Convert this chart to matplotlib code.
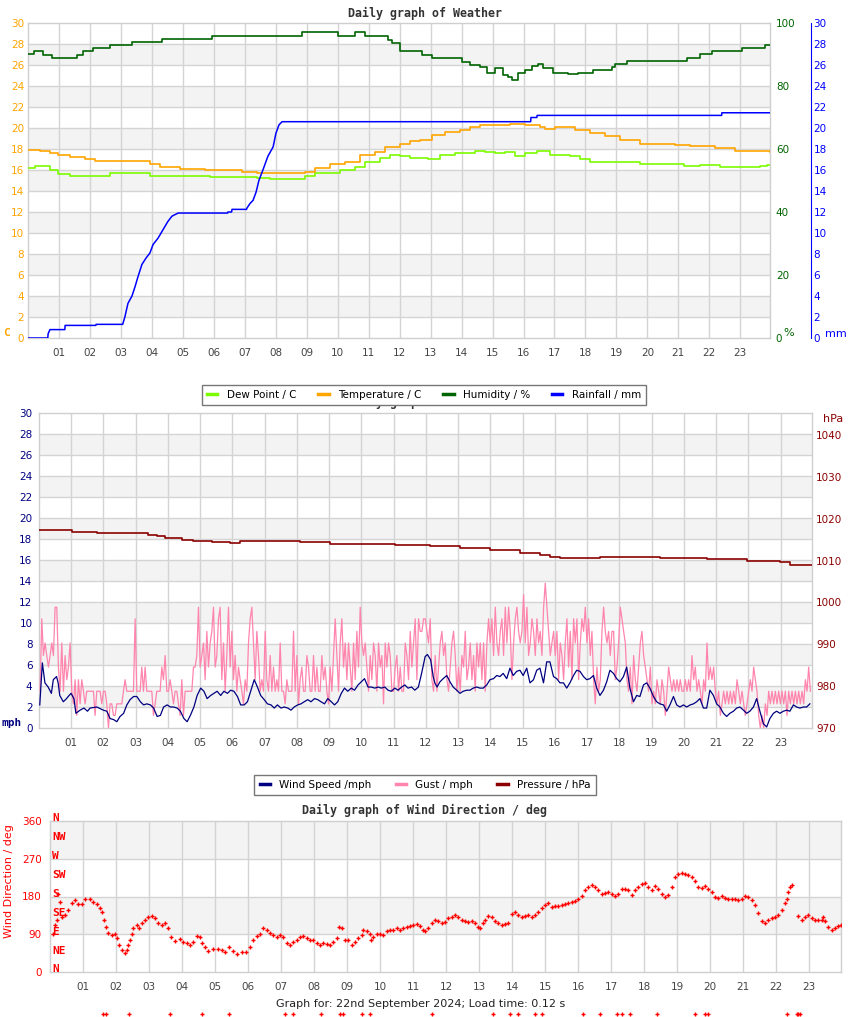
import numpy as np
import matplotlib
matplotlib.use("Agg")
import matplotlib.pyplot as plt
from matplotlib.lines import Line2D

W, H, DPI = 850, 1017, 100
XMAX = 23.97  # last reading of the day, in hours

# ---------------- top panel: hours since midnight ----------------
temp_t = [0.0, 0.38, 0.70, 0.96, 1.35, 1.83, 2.16, 3.93, 4.25, 4.90, 5.71, 6.90, 7.40,
          8.94, 9.26, 9.75, 10.23, 10.72, 11.20, 11.52, 12.01, 12.33, 12.66, 13.04, 13.46,
          13.95, 14.27, 14.59, 15.56, 16.05, 16.53, 16.69, 17.02, 17.66, 18.15, 18.63,
          19.11, 19.76, 20.89, 21.38, 22.19, 22.83, 23.97]
temp_c = [17.9, 17.8, 17.6, 17.4, 17.2, 17.0, 16.9, 16.6, 16.3, 16.1, 16.0, 15.8, 15.7,
          15.8, 16.2, 16.6, 16.8, 17.4, 17.7, 18.2, 18.5, 18.8, 18.9, 19.3, 19.6,
          19.8, 20.1, 20.3, 20.4, 20.3, 20.1, 19.9, 20.1, 19.8, 19.5, 19.2,
          18.9, 18.5, 18.4, 18.3, 18.1, 17.8, 17.7]

dew_t = [0.0, 0.22, 0.70, 0.96, 1.35, 2.64, 3.93, 5.87, 7.40, 7.81, 8.94, 9.26, 10.07,
         10.56, 10.88, 11.36, 11.69, 12.01, 12.33, 12.91, 13.30, 13.79, 14.43, 14.76,
         15.08, 15.40, 15.72, 16.05, 16.44, 16.86, 17.50, 17.82, 18.15, 19.76, 21.20,
         21.70, 22.35, 23.64, 23.87, 23.97]
dew_c = [16.2, 16.4, 16.0, 15.6, 15.4, 15.7, 15.4, 15.3, 15.2, 15.1, 15.4, 15.7, 16.0,
         16.3, 16.8, 17.1, 17.4, 17.3, 17.1, 17.0, 17.4, 17.6, 17.8, 17.7,
         17.6, 17.7, 17.3, 17.6, 17.8, 17.4, 17.3, 17.0, 16.8, 16.6, 16.4,
         16.5, 16.3, 16.4, 16.5, 16.5]

hum_t = [0.0, 0.18, 0.48, 0.77, 1.57, 1.77, 2.09, 2.64, 3.35, 4.32, 5.94, 8.84, 10.01,
         10.56, 10.88, 11.37, 11.63, 11.75, 12.01, 12.5, 12.72, 13.04, 14.01, 14.27, 14.6,
         14.82, 15.08, 15.34, 15.5, 15.63, 15.82, 16.05, 16.27, 16.47, 16.63, 16.95,
         17.44, 17.76, 18.25, 18.86, 18.96, 19.34, 21.28, 21.7, 22.09, 23.06, 23.8, 23.97]
hum_pct = [90.2, 91.0, 89.8, 88.8, 89.8, 91.0, 92.0, 92.9, 93.9, 94.8, 95.8, 97.0, 95.8,
           97.0, 95.8, 95.8, 94.5, 93.5, 91.0, 91.0, 89.8, 88.8, 87.7, 86.7, 86.0,
           84.2, 85.6, 83.5, 83.0, 81.9, 84.2, 85.1, 86.3, 87.0, 85.6, 84.2,
           83.7, 84.2, 85.0, 86.0, 87.0, 87.8, 88.8, 90.0, 91.0, 92.0, 92.9, 92.9]

# rain total: flat spells are given by their first and last reading
rain_t = [0.0, 0.63, 0.64, 0.70, 1.18, 1.19, 2.18, 2.19, 3.05, 3.06, 3.12, 3.22, 3.35,
          3.45, 3.54, 3.67, 3.80, 3.93, 4.03, 4.19, 4.35, 4.51, 4.64, 4.84, 6.44, 6.45,
          6.57, 6.58, 7.05, 7.06, 7.16, 7.26, 7.36, 7.45, 7.58, 7.74, 7.91, 8.00, 8.10,
          8.20, 16.23, 16.24, 16.43, 16.44, 22.40, 22.41, 23.97]
rain_mm = [0.0, 0.0, 0.4, 0.8, 0.8, 1.2, 1.2, 1.3, 1.3, 1.4, 2.0, 3.3, 4.0,
           4.9, 5.8, 7.0, 7.6, 8.1, 8.9, 9.5, 10.3, 11.1, 11.6, 11.9, 11.9, 12.0,
           12.0, 12.25, 12.25, 12.35, 12.8, 13.1, 13.9, 15.0, 16.0, 17.3, 18.2, 19.5, 20.3,
           20.6, 20.6, 21.0, 21.0, 21.2, 21.2, 21.45, 21.45]

# ---------------- middle panel ----------------
pres_t = [0.0, 1.03, 1.28, 1.8, 3.39, 3.67, 3.91, 4.44, 4.78, 5.37, 5.93, 6.24, 7.79,
          8.1, 9.03, 11.04, 12.13, 13.06, 14.0, 14.92, 15.54, 15.85, 16.15, 16.68, 17.4,
          19.26, 20.71, 21.95, 22.98, 23.29, 23.97]
pres_hpa = [1017.2, 1016.9, 1016.75, 1016.5, 1016.1, 1015.8, 1015.3, 1015.0, 1014.7,
            1014.4, 1014.1, 1014.6, 1014.6, 1014.4, 1014.0, 1013.7, 1013.4, 1013.0,
            1012.5, 1011.8, 1011.3, 1010.9, 1010.7, 1010.5, 1010.8, 1010.5, 1010.3,
            1010.0, 1009.6, 1009.0, 1009.0]

wind_t = [0.03, 0.11, 0.19, 0.29, 0.39, 0.45, 0.55, 0.60, 0.65, 0.76, 0.86, 0.94, 1.00,
          1.09, 1.15, 1.28, 1.40, 1.51, 1.59, 1.80, 2.00, 2.11, 2.21, 2.32, 2.42, 2.52,
          2.63, 2.73, 2.83, 2.94, 3.04, 3.15, 3.25, 3.35, 3.46, 3.56, 3.67, 3.77, 3.87,
          3.98, 4.08, 4.18, 4.29, 4.39, 4.50, 4.60, 4.70, 4.81, 4.91, 5.02, 5.12, 5.22,
          5.33, 5.43, 5.53, 5.64, 5.74, 5.85, 5.95, 6.05, 6.16, 6.26, 6.37, 6.47, 6.57,
          6.68, 6.78, 6.88, 6.99, 7.09, 7.20, 7.30, 7.40, 7.51, 7.61, 7.72, 7.82, 7.92,
          8.03, 8.13, 8.23, 8.34, 8.44, 8.55, 8.65, 8.75, 8.86, 8.96, 9.07, 9.17, 9.27,
          9.38, 9.48, 9.58, 9.69, 9.79, 9.90, 10.00, 10.10, 10.21, 10.31, 10.42, 10.52,
          10.62, 10.73, 10.83, 10.93, 11.04, 11.14, 11.25, 11.35, 11.45, 11.56, 11.66,
          11.77, 11.87,
          11.98, 12.05, 12.15, 12.23, 12.28, 12.35, 12.44, 12.54, 12.65, 12.75, 12.85,
          12.96, 13.06, 13.16, 13.27, 13.37, 13.47, 13.58, 13.68, 13.78, 13.89, 13.99,
          14.10, 14.20, 14.30, 14.40, 14.51, 14.61, 14.71, 14.82, 14.92, 15.02, 15.13,
          15.23, 15.34, 15.44, 15.54, 15.65, 15.75, 15.85, 15.96, 16.06, 16.16, 16.27,
          16.37, 16.47, 16.58, 16.68, 16.78, 16.89, 16.99, 17.09, 17.20, 17.30, 17.40,
          17.51, 17.61, 17.71, 17.82, 17.92, 18.02, 18.13, 18.23, 18.33, 18.44, 18.54,
          18.64, 18.75, 18.85, 18.95, 19.06, 19.16, 19.26, 19.37, 19.47, 19.57, 19.68,
          19.78, 19.88, 19.99, 20.09, 20.20, 20.30, 20.40, 20.50, 20.61, 20.71, 20.81,
          20.92, 21.02, 21.12, 21.23, 21.33, 21.43, 21.54, 21.64, 21.74, 21.85, 21.95,
          22.05, 22.16, 22.26, 22.36, 22.47, 22.57, 22.67, 22.78, 22.88, 22.98, 23.09,
          23.19, 23.29, 23.40, 23.50, 23.60, 23.71, 23.81, 23.91]
wind_mph = [2.2, 6.2, 4.3, 3.9, 3.3, 4.6, 4.9, 4.3, 3.1, 2.5, 2.8, 3.1, 3.3,
            2.8, 1.4, 1.7, 1.9, 1.6, 1.9, 2.0, 1.7, 1.6, 0.9, 0.8, 0.6, 1.1,
            1.4, 2.2, 2.7, 3.0, 3.0, 2.5, 2.2, 2.3, 2.2, 1.9, 1.1, 1.2, 2.0,
            2.2, 2.0, 2.0, 1.9, 1.6, 0.9, 0.6, 1.2, 2.0, 3.1, 3.8, 3.5, 2.8,
            3.1, 3.3, 3.5, 3.1, 3.5, 3.3, 3.6, 3.5, 3.0, 2.2, 2.2, 2.5, 3.5,
            4.6, 3.9, 3.1, 2.7, 2.3, 2.2, 1.9, 2.2, 1.9, 2.0, 1.9, 1.7, 2.0,
            2.2, 2.3, 2.5, 2.7, 2.5, 2.8, 2.7, 2.5, 2.3, 2.8, 2.5, 2.2, 2.5,
            3.3, 3.8, 3.5, 3.8, 3.6, 4.1, 4.4, 4.7, 3.9, 3.9, 3.8, 3.9,
            3.8, 3.9, 3.6, 3.5, 3.8, 3.6, 3.9, 4.1, 3.8, 3.9, 3.6,
            3.9, 5.2,
            6.8, 7.0, 6.5, 4.9, 4.3, 3.9, 4.4, 4.7, 5.0, 4.4, 3.9,
            3.6, 3.3, 3.5, 3.6, 3.6, 3.8, 3.9, 3.8, 3.8, 4.1, 4.6,
            4.7, 5.0, 4.9, 5.2, 4.7, 5.7, 5.0, 5.4, 5.5, 5.0, 5.7,
            4.3, 4.6, 5.5, 5.7, 4.3, 6.3, 6.3, 4.9, 4.7, 4.3, 4.3,
            3.8, 4.3, 5.0, 5.5, 5.4, 4.9, 4.6, 4.7, 5.0, 3.8, 3.1,
            3.6, 4.4, 5.5, 5.2, 4.7, 4.4, 4.9, 5.8, 3.8, 2.5, 3.1,
            3.0, 4.1, 4.3, 3.8, 3.0, 2.5, 2.3, 2.2, 1.6, 2.2, 3.0,
            2.2, 2.0, 2.2, 2.0, 2.2, 2.3, 2.5, 2.8, 1.9, 1.9, 3.6,
            3.1, 2.3, 2.0, 1.4, 1.1, 1.4, 1.6, 1.9, 2.0, 1.7, 1.4,
            1.6, 2.0, 2.8, 1.6, 0.4, 0.1, 0.9, 1.4, 1.6, 1.4, 1.6,
            1.7, 1.6, 2.2, 2.0, 1.9, 2.0, 2.0, 2.3]

# gusts are logged about every 3 minutes, starting just after midnight
GUST_T0, GUST_STEP = 0.04, 0.0517
gust_mph = [
    3.5, 10.4, 6.9, 8.1, 6.9, 5.8, 6.9, 8.1, 6.9, 11.5,
    11.5, 5.8, 3.5, 8.1, 3.5, 6.9, 4.6, 5.8, 8.1, 3.5,
    2.3, 4.6, 1.2, 4.6, 2.3, 4.6, 3.5, 2.3, 3.5, 3.5,
    3.5, 3.5, 3.5, 1.2, 3.5, 3.5, 3.5, 2.3, 3.5, 3.5,
    2.3, 0.0, 2.3, 2.3, 1.2, 1.2, 2.3, 2.3, 2.3, 2.3,
    3.5, 4.6, 3.5, 3.5, 3.5, 3.5, 3.5, 10.4, 3.5, 3.5,
    3.5, 5.8, 3.5, 5.8, 3.5, 3.5, 3.5, 3.5, 1.2, 2.3,
    3.5, 3.5, 3.5, 5.8, 4.6, 6.9, 3.5, 3.5, 4.6, 3.5,
    2.3, 3.5, 3.5, 2.3, 1.2, 4.6, 1.2, 3.5, 3.5, 3.5,
    3.5, 3.5, 5.8, 5.8, 6.9, 11.5, 5.8, 6.9, 8.1, 4.6,
    9.2, 5.8, 8.1, 9.2, 11.5, 5.8, 6.9, 10.4, 11.5, 4.6,
    8.1, 3.5, 6.9, 11.5, 5.8, 9.2, 4.6, 6.9, 3.5, 5.8,
    4.6, 3.5, 2.3, 4.6, 3.5, 8.1, 10.4, 11.5, 8.1, 4.6,
    9.2, 6.9, 3.5, 4.6, 3.5, 9.2, 4.6, 3.5, 6.9, 3.5,
    5.8, 3.5, 4.6, 3.5, 8.1, 3.5, 3.5, 2.3, 4.6, 3.5,
    3.5, 3.5, 9.2, 3.5, 6.9, 2.3, 4.6, 5.8, 3.5, 3.5,
    6.9, 5.8, 3.5, 3.5, 6.9, 3.5, 5.8, 3.5, 3.5, 6.9,
    4.6, 5.8, 3.5, 2.3, 5.8, 3.5, 6.9, 10.4, 6.9, 3.5,
    8.1, 10.4, 5.8, 8.1, 4.6, 8.1, 5.8, 3.5, 8.1, 4.6,
    9.2, 5.8, 11.5, 8.1, 6.9, 8.1, 5.8, 3.5, 6.9, 4.6,
    8.1, 6.9, 3.5, 8.1, 5.8, 6.9, 2.3, 8.1, 5.8, 8.1,
    6.9, 3.5, 3.5, 5.8, 6.9, 3.5, 5.8, 3.5, 3.5, 8.1,
    6.9, 4.6, 9.2, 5.8, 8.1, 10.4, 4.6, 10.4, 9.2, 9.2,
    10.4,
    10.4, 9.2, 8.1, 10.4, 4.6, 3.5, 6.9, 3.5, 5.8, 8.1,
    9.2, 6.9, 8.1, 4.6, 3.5, 5.8, 8.1, 9.2, 6.9, 3.5,
    5.8, 3.5, 6.9, 5.8, 9.2, 4.6, 5.8, 8.1, 4.6, 6.9,
    3.5, 8.1, 5.8, 8.1, 4.6, 8.1, 3.5, 8.1, 10.4, 8.1,
    10.4, 6.9, 11.5, 8.1, 6.9, 9.2, 10.4, 6.9, 11.5, 8.1,
    11.5, 9.2, 4.6, 8.1, 10.4, 11.5, 9.2, 8.1, 9.2, 12.7,
    8.1, 11.5, 6.9, 8.1, 10.4, 9.2, 6.9, 10.4, 8.1, 9.2,
    6.9, 11.5, 13.8, 11.5, 9.2, 6.9, 8.1, 9.2, 6.9, 9.2,
    4.6, 8.1, 6.9, 4.6, 8.1, 10.4, 5.8, 9.2, 4.6, 10.4,
    8.1, 10.4, 4.6, 8.1, 10.4, 9.2, 11.5, 8.1, 10.4, 6.9,
    9.2, 4.6, 2.3, 5.8, 3.5, 4.6, 9.2, 11.5, 9.2, 8.1,
    9.2, 6.9, 9.2, 9.2, 4.6, 5.8, 8.1, 11.5, 10.4, 9.2,
    8.1, 4.6, 3.5, 5.8, 2.3, 6.9, 4.6, 3.5, 5.8, 8.1,
    9.2, 6.9, 5.8, 4.6, 3.5, 5.8, 2.3, 3.5, 2.3, 4.6,
    3.5, 2.3, 4.6, 3.5, 1.2, 3.5, 5.8, 4.6, 3.5, 4.6,
    3.5, 4.6, 3.5, 4.6, 3.5, 3.5, 4.6, 3.5, 4.6, 3.5,
    6.9, 4.6, 5.8, 3.5, 4.6, 3.5, 2.3, 4.6, 3.5, 8.1,
    4.6, 5.8, 4.6, 5.8, 3.5, 2.3, 3.5, 1.2, 2.3, 3.5,
    2.3, 3.5, 2.3, 3.5, 2.3, 3.5, 2.3, 4.6, 3.5, 2.3,
    3.5, 2.3, 1.2, 2.3, 3.5, 4.6, 3.5, 5.8, 4.6, 3.5,
    1.2, 0.0, 1.2, 0.0, 2.3, 1.2, 3.5, 2.3, 3.5, 2.3,
    3.5, 2.3, 3.5, 2.3, 3.5, 2.3, 3.5, 1.2, 3.5, 2.3,
    3.5, 2.3, 3.5, 2.3, 3.5, 2.3, 3.5, 2.3, 4.6, 3.5,
    5.8, 3.5]

# ---------------- bottom panel: wind direction ----------------
dir_t = [0.10, 0.15, 0.20, 0.25, 0.30, 0.35, 0.45, 0.56, 0.66, 0.76, 0.86, 0.96, 1.06,
         1.21, 1.31, 1.41, 1.52, 1.57, 1.64, 1.70, 1.77, 1.87, 1.97, 2.04, 2.10, 2.17,
         2.27, 2.32, 2.37, 2.42, 2.47, 2.53, 2.63, 2.71, 2.78, 2.88, 2.98, 3.08, 3.18,
         3.28, 3.38, 3.48, 3.59, 3.66, 3.79, 3.94, 4.02, 4.14, 4.24, 4.34, 4.44, 4.55,
         4.62, 4.70, 4.80, 4.95, 5.10, 5.20, 5.30, 5.43, 5.56, 5.68, 5.81, 5.94, 6.06,
         6.16, 6.26, 6.36, 6.46, 6.57, 6.67, 6.77, 6.87, 6.97, 7.07, 7.17, 7.27, 7.37,
         7.47, 7.58, 7.68, 7.78, 7.88, 7.98, 8.08, 8.18, 8.28, 8.38, 8.48, 8.59, 8.69,
         8.77, 8.84, 8.94, 9.04, 9.14, 9.24, 9.34, 9.44, 9.49, 9.60, 9.70, 9.72, 9.80,
         9.90, 10.00, 10.10, 10.20, 10.30, 10.40, 10.51, 10.61, 10.71, 10.81, 10.91,
         11.01, 11.11, 11.21, 11.31,
         11.36, 11.46, 11.57, 11.67, 11.77, 11.87, 11.97, 12.07, 12.17, 12.27, 12.37,
         12.47, 12.58, 12.68, 12.78, 12.88, 12.98, 13.03, 13.13, 13.18, 13.28, 13.38,
         13.48, 13.59, 13.69, 13.79, 13.89, 13.99, 14.09, 14.19, 14.29, 14.39, 14.49,
         14.60, 14.70, 14.80, 14.90, 15.00, 15.10, 15.20, 15.30, 15.40, 15.51, 15.61,
         15.71, 15.81, 15.91, 16.01, 16.11, 16.21, 16.31, 16.41, 16.52, 16.62, 16.72,
         16.82, 16.92, 17.02, 17.12, 17.22, 17.32, 17.42, 17.53, 17.63, 17.73, 17.83,
         17.93, 18.03, 18.13, 18.23, 18.33, 18.43, 18.54, 18.64, 18.74, 18.84, 18.94,
         19.04, 19.14, 19.24, 19.34, 19.44, 19.55, 19.65, 19.75, 19.85, 19.95, 20.05,
         20.15, 20.25, 20.35, 20.45, 20.56, 20.66, 20.76, 20.86, 20.96, 21.06, 21.16,
         21.26, 21.36, 21.46, 21.57, 21.67, 21.77, 21.87, 21.97, 22.07, 22.17, 22.27,
         22.32, 22.37, 22.42, 22.47, 22.68, 22.78, 22.88, 22.98, 23.08, 23.18, 23.28,
         23.38, 23.43, 23.48, 23.59, 23.69, 23.79, 23.89, 23.96]
dir_deg = [91, 111, 124, 187, 168, 132, 136, 148, 164, 172, 162, 162, 173,
           173, 168, 161, 152, 144, 124, 108, 94, 88, 91, 80, 64, 52,
           46, 52, 64, 76, 91, 104, 111, 104, 116, 124, 132, 134, 128,
           116, 113, 116, 104, 84, 73, 78, 72, 68, 65, 72, 85, 84,
           70, 60, 51, 54, 55, 52, 48, 60, 51, 43, 48, 48, 60,
           76, 85, 91, 104, 100, 94, 88, 84, 88, 84, 70, 64, 72,
           76, 83, 87, 80, 76, 76, 68, 65, 68, 66, 64, 72, 80,
           108, 106, 76, 76, 64, 72, 80, 88, 100, 98, 91, 76, 84,
           91, 91, 89, 98, 101, 100, 104, 100, 104, 108, 110,
           111, 114, 110, 100,
           98, 104, 116, 125, 121, 116, 120, 128, 132, 136, 132,
           125, 121, 120, 122, 116, 108, 104, 116, 125, 133, 132,
           121, 116, 113, 114, 117, 138, 144, 136, 130, 133, 136,
           132, 136, 144, 152, 160, 164, 156, 158, 158, 160, 162,
           165, 166, 169, 173, 181, 195, 202, 207, 202, 195, 185,
           188, 191, 187, 181, 185, 199, 197, 195, 183, 195, 203,
           209, 212, 203, 195, 205, 199, 187, 179, 183, 203, 226,
           234, 236, 233, 232, 226, 218, 203, 201, 206, 199, 191,
           179, 177, 181, 177, 173, 175, 173, 171, 175, 182, 179,
           171, 160, 140, 122, 117, 125, 129, 130, 136, 148, 164,
           175, 191, 203, 208, 133, 125, 132, 135, 129, 124, 124,
           125, 130, 121, 108, 100, 106, 110, 111]

# calm spells get logged with a placeholder bearing below the scale
CALM_DEG = -100
calm_t = [1.61, 1.70, 2.39, 3.64, 4.61, 5.42, 7.12, 7.36, 8.21, 8.79, 8.88, 9.45, 9.70,
          11.58, 13.42, 13.94, 14.18, 14.70, 14.91, 16.15, 16.67, 17.18, 17.33, 17.58,
          18.39, 19.55, 19.85, 19.94, 22.33, 22.64, 22.67, 22.73]

# ---------------- colours ----------------
C_TEMP, C_DEW, C_HUM, C_RAIN = '#ffa500', '#7cfc00', '#006400', '#0000ff'
C_WIND, C_GUST, C_PRES, C_DIR = '#000080', '#ff85ad', '#8b0000', '#ff0000'
GRID, BAND, EDGE = '#d4d4d4', '#f3f3f3', '#cfcfcf'
MONO = 'DejaVu Sans Mono'

fig = plt.figure(figsize=(W / DPI, H / DPI), dpi=DPI)


def add_panel(left, top, right, bottom):
    # panel rectangle in pixels, measured from the top-left corner of the page
    return fig.add_axes([left / W, 1 - bottom / H, (right - left) / W, (bottom - top) / H])


def put(x, y, s, **kw):
    fig.text(x / W, 1 - y / H, s, **kw)


def style_panel(ax, yticks, ycolor, ypad):
    ax.set_xlim(0, XMAX)
    ax.set_ylim(yticks[0], yticks[-1])
    for i, (lo, hi) in enumerate(zip(yticks[:-1], yticks[1:])):
        if i % 2 == 1:
            ax.axhspan(lo, hi, color=BAND, lw=0, zorder=0)
    for y in yticks[1:-1]:
        ax.axhline(y, color=GRID, lw=1, zorder=0.5)
    for h in range(1, 24):
        ax.axvline(h, color=GRID, lw=1, zorder=0.5)
    ax.set_xticks(range(1, 24))
    ax.set_xticklabels([f'{h:02d}' for h in range(1, 24)])
    ax.set_yticks(yticks)
    ax.tick_params(axis='x', length=0, pad=7, labelsize=7.5, labelcolor='#444444')
    ax.tick_params(axis='y', length=0, pad=ypad, labelsize=7.5, labelcolor=ycolor)
    for s in ax.spines.values():
        s.set_color(EDGE)
        s.set_linewidth(1)


def clean_twin(tw):
    for s in tw.spines.values():
        s.set_visible(False)
    tw.set_xlim(0, XMAX)


# ---------------- top panel ----------------
ax1 = add_panel(28.3, 23, 770.2, 338)
style_panel(ax1, list(range(0, 31, 2)), C_TEMP, 3)
ax1.plot(dew_t, dew_c, color=C_DEW, lw=1.2, drawstyle='steps-post', zorder=3)
ax1.plot(temp_t, temp_c, color=C_TEMP, lw=1.2, drawstyle='steps-post', zorder=3)

ax1h = ax1.twinx()
clean_twin(ax1h)
ax1h.set_ylim(0, 100)
ax1h.set_yticks(range(0, 101, 20))
ax1h.tick_params(axis='y', length=0, pad=4, labelsize=7.5, labelcolor=C_HUM)
ax1h.plot(hum_t, hum_pct, color=C_HUM, lw=1.2, drawstyle='steps-post')

ax1r = ax1.twinx()
clean_twin(ax1r)
ax1r.spines['right'].set_visible(True)
ax1r.spines['right'].set_position(('axes', 1.0546))
ax1r.spines['right'].set_color(C_RAIN)
ax1r.set_ylim(0, 30)
ax1r.set_yticks(range(0, 31, 2))
ax1r.tick_params(axis='y', length=0, pad=2, labelsize=7.5, labelcolor=C_RAIN)
ax1r.plot(rain_t, rain_mm, color=C_RAIN, lw=1.1)

put(425, 13, 'Daily graph of Weather', ha='center', va='center', family=MONO,
    weight='bold', size=8.4, color='#333333')
put(6, 333, 'C', ha='center', va='center', family=MONO, weight='bold', size=8, color=C_TEMP)
put(789, 333, '%', ha='center', va='center', size=8, color=C_HUM)
put(836, 334, 'mm', ha='center', va='center', size=8, color=C_RAIN)

leg1 = [Line2D([], [], color=c, lw=2.5) for c in (C_DEW, C_TEMP, C_HUM, C_RAIN)]
# title of the middle panel sits behind the first legend
put(425, 402, 'Daily graph of Weather', ha='center', va='center', family=MONO,
    weight='bold', size=8.4, color='#333333', zorder=1)
fig.legend(leg1, ['Dew Point / C', 'Temperature / C', 'Humidity / %', 'Rainfall / mm'],
           loc='center', bbox_to_anchor=(424 / W, 1 - 395 / H), ncol=4, fontsize=7.5,
           frameon=True, fancybox=False, edgecolor='#777777', framealpha=1,
           handlelength=1.0, handletextpad=0.9, columnspacing=2.1, borderpad=0.45)

# ---------------- middle panel ----------------
ax2 = add_panel(38.8, 413, 811.8, 728)
style_panel(ax2, list(range(0, 31, 2)), C_WIND, 4.5)
ax2.plot(GUST_T0 + GUST_STEP * np.arange(len(gust_mph)), gust_mph,
         color=C_GUST, lw=0.9, zorder=3)
ax2.plot(wind_t, wind_mph, color=C_WIND, lw=0.9, zorder=4)

ax2p = ax2.twinx()
clean_twin(ax2p)
ax2p.set_ylim(970, 1045.25)
ax2p.set_yticks(range(970, 1041, 10))
ax2p.tick_params(axis='y', length=0, pad=3, labelsize=7.5, labelcolor=C_PRES)
ax2p.plot(pres_t, pres_hpa, color=C_PRES, lw=1.2, drawstyle='steps-post')

put(12, 723, 'mph', ha='center', va='center', family=MONO, weight='bold', size=8, color=C_WIND)
put(833, 419, 'hPa', ha='center', va='center', size=8, color=C_PRES)

leg2 = [Line2D([], [], color=c, lw=2.5) for c in (C_WIND, C_GUST, C_PRES)]
fig.legend(leg2, ['Wind Speed /mph', 'Gust / mph', 'Pressure / hPa'],
           loc='center', bbox_to_anchor=(425 / W, 1 - 785 / H), ncol=3, fontsize=7.5,
           frameon=True, fancybox=False, edgecolor='#777777', framealpha=1,
           handlelength=1.0, handletextpad=0.9, columnspacing=2.3, borderpad=0.5)

# ---------------- bottom panel ----------------
ax3 = add_panel(50, 821, 841, 972)
style_panel(ax3, [0, 90, 180, 270, 360], C_DIR, 6)
ax3.plot(dir_t, dir_deg, ls='none', marker='+', ms=3.5, mew=1.0, color=C_DIR, zorder=3)
ax3.plot(calm_t, [CALM_DEG] * len(calm_t), ls='none', marker='+', ms=3.5, mew=1.0,
         color=C_DIR, clip_on=False, zorder=3)

compass = ['N', 'NW', 'W', 'SW', 'S', 'SE', 'E', 'NE', 'N']
for deg, name in zip(range(360, -1, -45), compass):
    ax3.text(0.06, deg + 6, name, ha='left', va='center', family=MONO, weight='bold',
             size=8, color=C_DIR, zorder=5)

put(425, 810, 'Daily graph of Wind Direction / deg', ha='center', va='center',
    family=MONO, weight='bold', size=8.4, color='#333333')
put(9, 881, 'Wind Direction / deg', rotation=90, ha='center', va='center', size=8,
    color=C_DIR)
put(421, 1004, 'Graph for: 22nd September 2024; Load time: 0.12 s', ha='center',
    va='center', size=8, color='#222222')

fig.savefig('out.png', dpi=DPI)
